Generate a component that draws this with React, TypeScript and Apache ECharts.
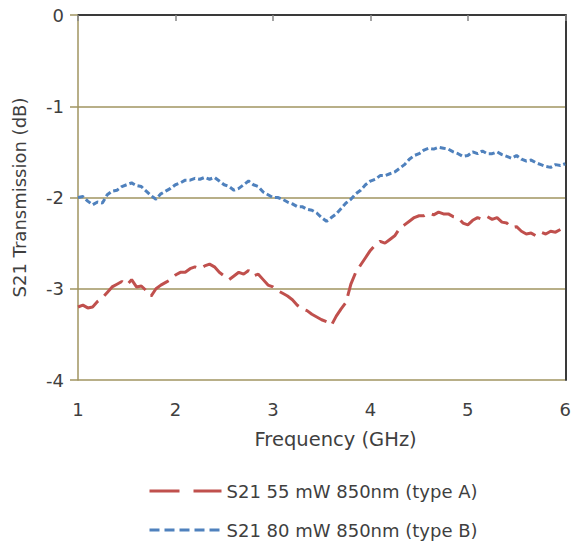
import React, { useEffect, useRef } from "react";
import * as echarts from "echarts";

const freqA = [1.00,1.05,1.10,1.15,1.20,1.25,1.30,1.35,1.40,1.45,1.50,1.55,1.60,1.65,1.70,1.75,1.80,1.85,1.90,1.95,2.00,2.05,2.10,2.15,2.20,2.25,2.30,2.35,2.40,2.45,2.50,2.55,2.60,2.65,2.70,2.75,2.80,2.85,2.90,2.95,3.00,3.05,3.10,3.15,3.20,3.25,3.30,3.35,3.40,3.45,3.50,3.55,3.60,3.65,3.70,3.75,3.80,3.85,3.90,3.95,4.00,4.05,4.10,4.15,4.20,4.25,4.30,4.35,4.40,4.45,4.50,4.55,4.60,4.65,4.70,4.75,4.80,4.85,4.90,4.95,5.00,5.05,5.10,5.15,5.20,5.25,5.30,5.35,5.40,5.45,5.50,5.55,5.60,5.65,5.70,5.75,5.80,5.85,5.90,5.95];
const typeA = [-3.20,-3.18,-3.21,-3.20,-3.14,-3.10,-3.04,-2.98,-2.95,-2.92,-2.96,-2.90,-2.98,-2.97,-3.02,-3.08,-3.00,-2.96,-2.93,-2.90,-2.85,-2.82,-2.82,-2.78,-2.76,-2.78,-2.75,-2.73,-2.76,-2.82,-2.86,-2.90,-2.86,-2.82,-2.84,-2.80,-2.86,-2.84,-2.90,-2.96,-2.98,-3.02,-3.05,-3.08,-3.12,-3.18,-3.22,-3.24,-3.28,-3.31,-3.34,-3.36,-3.40,-3.30,-3.22,-3.15,-2.95,-2.82,-2.74,-2.66,-2.58,-2.52,-2.48,-2.50,-2.46,-2.42,-2.34,-2.30,-2.26,-2.22,-2.20,-2.20,-2.17,-2.19,-2.16,-2.18,-2.18,-2.21,-2.22,-2.28,-2.30,-2.25,-2.22,-2.24,-2.21,-2.24,-2.22,-2.27,-2.28,-2.33,-2.32,-2.37,-2.40,-2.39,-2.42,-2.38,-2.40,-2.37,-2.38,-2.35];

const freqB = [1.00,1.05,1.10,1.15,1.20,1.25,1.30,1.35,1.40,1.45,1.50,1.55,1.60,1.65,1.70,1.75,1.80,1.85,1.90,1.95,2.00,2.05,2.10,2.15,2.20,2.25,2.30,2.35,2.40,2.45,2.50,2.55,2.60,2.65,2.70,2.75,2.80,2.85,2.90,2.95,3.00,3.05,3.10,3.15,3.20,3.25,3.30,3.35,3.40,3.45,3.50,3.55,3.60,3.65,3.70,3.75,3.80,3.85,3.90,3.95,4.00,4.05,4.10,4.15,4.20,4.25,4.30,4.35,4.40,4.45,4.50,4.55,4.60,4.65,4.70,4.75,4.80,4.85,4.90,4.95,5.00,5.05,5.10,5.15,5.20,5.25,5.30,5.35,5.40,5.45,5.50,5.55,5.60,5.65,5.70,5.75,5.80,5.85,5.90,5.95,6.00];
const typeB = [-2.00,-1.99,-2.04,-2.08,-2.05,-2.06,-1.97,-1.93,-1.92,-1.88,-1.86,-1.84,-1.87,-1.88,-1.93,-1.98,-2.02,-1.96,-1.93,-1.90,-1.86,-1.84,-1.81,-1.81,-1.79,-1.80,-1.78,-1.80,-1.78,-1.82,-1.86,-1.88,-1.92,-1.90,-1.86,-1.82,-1.86,-1.88,-1.94,-1.97,-2.00,-2.00,-2.02,-2.05,-2.07,-2.10,-2.10,-2.13,-2.14,-2.17,-2.22,-2.26,-2.22,-2.18,-2.12,-2.06,-2.02,-1.96,-1.92,-1.86,-1.82,-1.80,-1.76,-1.76,-1.74,-1.72,-1.68,-1.64,-1.58,-1.54,-1.52,-1.48,-1.46,-1.47,-1.45,-1.46,-1.47,-1.50,-1.52,-1.55,-1.54,-1.50,-1.52,-1.49,-1.52,-1.52,-1.50,-1.53,-1.55,-1.57,-1.54,-1.58,-1.60,-1.59,-1.62,-1.64,-1.66,-1.67,-1.64,-1.65,-1.63];

const seriesNames = ["S21 55 mW 850nm (type A)", "S21 80 mW 850nm (type B)"];
const xTitle = "Frequency (GHz)";
const yTitle = "S21 Transmission (dB)";

const FONT = "DejaVu Sans";
const FS = 18;
const TXT = "#3f3f3f";

export default function App() {
  const ref = useRef<HTMLDivElement>(null);
  useEffect(() => {
    if (!ref.current) return;
    const chart = echarts.init(ref.current, null, { renderer: "svg" });
    const olive = "#A09560";
    chart.setOption({
      animation: false,
      backgroundColor: "#ffffff",
      grid: { left: 78, right: 6, top: 15, bottom: 171, containLabel: false },
      legend: {
        orient: "vertical",
        left: 143,
        top: 477,
        itemWidth: 72,
        itemHeight: 14,
        itemGap: 21,
        textStyle: { fontFamily: FONT, fontSize: FS, color: TXT },
        data: [
          { name: seriesNames[0], itemStyle: { opacity: 0 }, lineStyle: { type: [30, 14], width: 3 } },
          { name: seriesNames[1], itemStyle: { opacity: 0 }, lineStyle: { type: [10, 5], width: 3 } },
        ],
      },
      xAxis: [
        {
          type: "value",
          min: 1,
          max: 6,
          interval: 1,
          name: xTitle,
          nameLocation: "middle",
          nameGap: 49,
          nameTextStyle: { fontFamily: FONT, fontSize: 19.5, color: TXT, padding: [0, 0, 0, 28] },
          axisLine: { show: true, lineStyle: { color: "#868686", width: 1.5 } },
          axisTick: { show: true, inside: false, length: 6, lineStyle: { color: "#868686", width: 1.5 } },
          axisLabel: { fontFamily: FONT, fontSize: FS, color: TXT, margin: 20 },
          splitLine: { show: false },
        },
        {
          type: "value",
          position: "top",
          min: 1,
          max: 6,
          axisLine: { show: true, lineStyle: { color: "#3a3a3a", width: 2 } },
          axisTick: { show: false },
          axisLabel: { show: false },
          splitLine: { show: false },
        },
      ],
      yAxis: [
        {
          type: "value",
          min: -4,
          max: 0,
          interval: 1,
          name: yTitle,
          nameLocation: "middle",
          nameGap: 50,
          nameTextStyle: { fontFamily: FONT, fontSize: FS, color: TXT },
          axisLine: { show: true, lineStyle: { color: olive, width: 1.5 } },
          axisTick: { show: true, inside: false, length: 8, lineStyle: { color: olive, width: 1.5 } },
          axisLabel: { fontFamily: FONT, fontSize: FS, color: TXT, margin: 14 },
          splitLine: { show: true, lineStyle: { color: olive, width: 1.5 } },
        },
        {
          type: "value",
          position: "right",
          min: -4,
          max: 0,
          axisLine: { show: true, lineStyle: { color: "#3a3a3a", width: 2 } },
          axisTick: { show: false },
          axisLabel: { show: false },
          splitLine: { show: false },
        },
      ],
      series: [
        {
          name: seriesNames[0],
          type: "line",
          showSymbol: false,
          symbol: "none",
          data: freqA.map((f, i) => [f, typeA[i]]),
          lineStyle: { color: "#C0504D", width: 3, type: [24, 8] },
          itemStyle: { color: "#C0504D" },
          z: 3,
        },
        {
          name: seriesNames[1],
          type: "line",
          showSymbol: false,
          symbol: "none",
          data: freqB.map((f, i) => [f, typeB[i]]),
          lineStyle: { color: "#4F81BD", width: 3, type: [6, 3] },
          itemStyle: { color: "#4F81BD" },
          z: 3,
        },
      ],
    });
    return () => chart.dispose();
  }, []);
  return <div ref={ref} style={{ width: 574, height: 551, position: "absolute", left: 0, top: 0 }} />;
}
